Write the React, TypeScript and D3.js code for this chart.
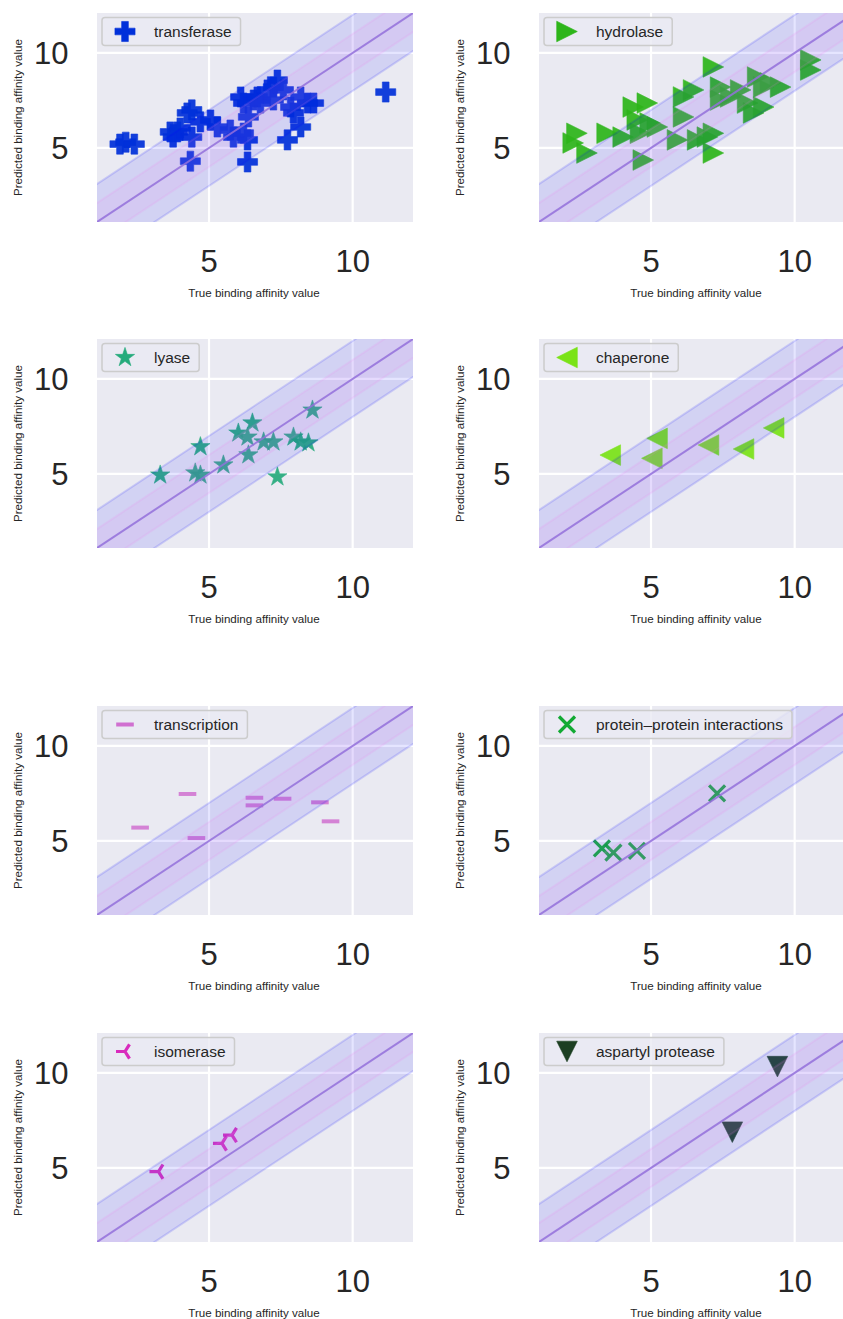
import * as d3 from 'd3';
import { useEffect, useRef } from 'react';

// values: true (x) and predicted (y) affinity
const transferaseTrue = [1.9, 2.1, 2.4, 3.65, 3.75, 3.9, 4.0, 4.24, 4.35, 4.4, 4.4, 4.7, 5.05, 5.29, 5.74, 5.85, 6.1, 6.2, 6.2, 6.34, 6.34, 6.37, 6.55, 6.68, 6.79, 7.03, 7.24, 7.24, 7.38, 7.59, 7.73, 7.84, 7.94, 8.19, 8.19, 8.43, 8.64, 11.15];
const transferasePred = [5.2, 5.3, 5.2, 5.84, 5.57, 5.84, 6.05, 6.84, 4.3, 7.0, 5.57, 6.37, 6.47, 6.1, 5.94, 5.57, 7.68, 7.36, 5.78, 5.42, 4.26, 6.63, 7.52, 7.68, 7.36, 8.05, 8.2, 7.52, 8.57, 8.05, 5.42, 7.15, 6.84, 7.68, 6.1, 7.36, 7.36, 7.94];

const hydrolaseTrue = [2.29, 2.42, 2.77, 3.47, 4.03, 4.38, 4.52, 4.63, 4.73, 4.87, 4.97, 5.22, 5.92, 6.13, 6.13, 6.48, 6.62, 6.96, 7.17, 7.17, 7.17, 7.42, 7.42, 7.77, 8.12, 8.36, 8.57, 8.71, 8.92, 8.92, 9.16, 9.51, 10.56, 10.56];
const hydrolasePred = [5.26, 5.77, 4.73, 5.77, 5.57, 7.15, 6.47, 5.77, 4.36, 7.36, 6.31, 6.1, 5.42, 7.68, 6.63, 8.05, 5.42, 5.57, 9.26, 5.77, 4.73, 8.2, 7.52, 7.68, 8.05, 7.36, 6.84, 8.73, 7.15, 8.2, 8.42, 8.2, 9.63, 9.1];

const lyaseTrue = [3.3, 4.52, 4.7, 4.7, 5.5, 6.02, 6.34, 6.37, 6.51, 6.9, 7.24, 7.38, 7.94, 8.19, 8.46, 8.6];
const lyasePred = [4.94, 5.05, 4.94, 6.43, 5.47, 7.15, 6.94, 6.0, 7.68, 6.68, 6.68, 4.84, 6.94, 6.68, 6.63, 8.36];

const chaperoneTrue = [3.58, 5.03, 5.21, 7.0, 8.22, 9.27];
const chaperonePred = [5.99, 5.82, 6.87, 6.52, 6.31, 7.42];

const transcriptionTrue = [2.6, 4.25, 4.56, 6.58, 6.58, 7.56, 8.86, 9.23];
const transcriptionPred = [5.7, 7.47, 5.15, 7.27, 6.87, 7.22, 7.03, 6.03];

const ppiTrue = [3.29, 3.69, 4.51, 7.3];
const ppiPred = [4.61, 4.38, 4.48, 7.5];

const isomeraseTrue = [3.24, 5.45, 5.8];
const isomerasePred = [4.8, 6.29, 6.73];

const asparticTrue = [7.83, 9.4];
const asparticPred = [6.88, 10.33];

const categories = ['transferase', 'hydrolase', 'lyase', 'chaperone', 'transcription', 'protein\u2013protein interactions', 'isomerase', 'aspartyl protease'];
const colors = ['#0030da', '#2db51a', '#25ab7c', '#7ae317', '#d070d0', '#12aa33', '#d92bbd', '#1c3f22'];
const markers = ['plus', 'tri-right', 'star', 'tri-left', 'hline', 'x', 'tri3', 'tri-down'];
const trueValues = [transferaseTrue, hydrolaseTrue, lyaseTrue, chaperoneTrue, transcriptionTrue, ppiTrue, isomeraseTrue, asparticTrue];
const predValues = [transferasePred, hydrolasePred, lyasePred, chaperonePred, transcriptionPred, ppiPred, isomerasePred, asparticPred];

const ticks = [5, 10];
const domain = [1.1, 12.1];

const W = 843;
const H = 1319;
const colLeft = [97, 539];
const rowTop = [13, 339, 706, 1033];
const plotW = 316;
const plotH = 209;
const font = 'Liberation Sans, Arial, sans-serif';
const textColor = '#262626';

// marker path, centred at 0,0
const markerPath = (m: string) => {
    const t = 10.3;
    if (m === 'plus') return d3.symbol(d3.symbolCross, 225)();
    if (m === 'star') return d3.symbol(d3.symbolStar, 115)();
    if (m === 'tri-right') return `M${t},0L${-t},${-t}L${-t},${t}Z`;
    if (m === 'tri-left') return `M${-t},0L${t},${-t}L${t},${t}Z`;
    if (m === 'tri-down') return `M0,${t}L${-t},${-t}L${t},${-t}Z`;
    if (m === 'x') return 'M-8,-8L8,8M-8,8L8,-8';
    if (m === 'hline') return 'M-8.8,0L8.8,0';
    // tri_left: arms to left and to upper / lower right
    const r = 9;
    return `M0,0L${-r},0M0,0L${0.5 * r},${-0.8 * r}M0,0L${0.5 * r},${0.8 * r}`;
};
const isLine = (m: string) => m === 'x' || m === 'hline' || m === 'tri3';

const App = () => {
    const ref = useRef<SVGSVGElement>(null);

    useEffect(() => {
        const svg = d3.select(ref.current);
        svg.selectAll('*').remove();

        categories.forEach((name, i) => {
            const left = colLeft[i % 2];
            const top = rowTop[Math.floor(i / 2)];
            const x = d3.scaleLinear().domain(domain).range([left, left + plotW]);
            const y = d3.scaleLinear().domain(domain).range([top + plotH, top]);

            const g = svg.append('g');
            const clipId = `clip${i}`;
            g.append('clipPath').attr('id', clipId)
                .append('rect').attr('x', left).attr('y', top).attr('width', plotW).attr('height', plotH);

            g.append('rect').attr('x', left).attr('y', top).attr('width', plotW).attr('height', plotH)
                .attr('fill', '#eaeaf2');

            // grid
            ticks.forEach(t => {
                g.append('line').attr('x1', x(t)).attr('x2', x(t)).attr('y1', top).attr('y2', top + plotH)
                    .attr('stroke', '#fff').attr('stroke-width', 2.2);
                g.append('line').attr('y1', y(t)).attr('y2', y(t)).attr('x1', left).attr('x2', left + plotW)
                    .attr('stroke', '#fff').attr('stroke-width', 2.2);
            });

            const plot = g.append('g').attr('clip-path', `url(#${clipId})`);

            // points
            const pts = trueValues[i].map((v, j) => [v, predValues[i][j]]);
            const m = markers[i];
            const path = markerPath(m);
            plot.selectAll('path.pt').data(pts).enter().append('path')
                .attr('class', 'pt')
                .attr('d', path)
                .attr('transform', d => `translate(${x(d[0])},${y(d[1])})`)
                .attr('fill', isLine(m) ? 'none' : colors[i])
                .attr('stroke', colors[i])
                .attr('stroke-width', isLine(m) ? (m === 'hline' ? 4 : 3.2) : 0.6)
                .attr('opacity', m === 'hline' ? 0.85 : 0.92);

            // bands +-2 and +-1 around y = x
            const xs = [domain[0] - 1, domain[1] + 1];
            const band = d3.area<number>().x(d => x(d));
            [[2, '#0000ff'], [1, '#ee82ee']].forEach(([off, c]) => {
                const o = off as number;
                plot.append('path').datum(xs)
                    .attr('d', band.y0(d => y(d - o)).y1(d => y(d + o)))
                    .attr('fill', c as string).attr('fill-opacity', 0.1)
                    .attr('stroke', c as string).attr('stroke-opacity', 0.14).attr('stroke-width', 2);
            });
            plot.append('path').datum(xs)
                .attr('d', d3.line<number>().x(d => x(d)).y(d => y(d)))
                .attr('stroke', '#9370db').attr('stroke-width', 2).attr('fill', 'none').attr('opacity', 0.85);

            // tick labels
            ticks.forEach(t => {
                g.append('text').attr('x', x(t)).attr('y', top + plotH + 50)
                    .attr('text-anchor', 'middle').attr('font-size', 31).attr('font-family', font)
                    .attr('fill', textColor).text(t);
                g.append('text').attr('x', left - 28.5).attr('y', y(t) + 11.5)
                    .attr('text-anchor', 'end').attr('font-size', 31).attr('font-family', font)
                    .attr('fill', textColor).text(t);
            });

            g.append('text').attr('x', left + plotW / 2 - 1).attr('y', top + plotH + 75)
                .attr('text-anchor', 'middle').attr('font-size', 11.6).attr('font-family', font)
                .attr('fill', textColor).text('True binding affinity value');
            g.append('text')
                .attr('transform', `translate(${left - 75},${top + plotH / 2}) rotate(-90)`)
                .attr('text-anchor', 'middle').attr('font-size', 11.6).attr('font-family', font)
                .attr('fill', textColor).text('Predicted binding affinity value');

            // legend
            const lg = g.append('g');
            const box = lg.append('rect').attr('x', left + 5).attr('y', top + 4.5).attr('height', 28)
                .attr('rx', 3).attr('fill', '#eaeaf2').attr('fill-opacity', 0.8)
                .attr('stroke', '#cccccc').attr('stroke-width', 1.5);
            lg.append('path').attr('d', path)
                .attr('transform', `translate(${left + 28},${top + 18.5})`)
                .attr('fill', isLine(m) ? 'none' : colors[i])
                .attr('stroke', colors[i])
                .attr('stroke-width', isLine(m) ? (m === 'hline' ? 4 : 3.2) : 0.6);
            const label = lg.append('text').attr('x', left + 57).attr('y', top + 24)
                .attr('font-size', 15.5).attr('font-family', font).attr('fill', textColor).text(name);
            const tw = (label.node() as SVGTextElement).getComputedTextLength();
            box.attr('width', 52 + tw + 9);
        });
    }, []);

    return (
        <div style={{ position: 'absolute', left: 0, top: 0 }}>
            <svg ref={ref} width={W} height={H} style={{ display: 'block', background: '#fff' }} />
        </div>
    );
};

export default App;
